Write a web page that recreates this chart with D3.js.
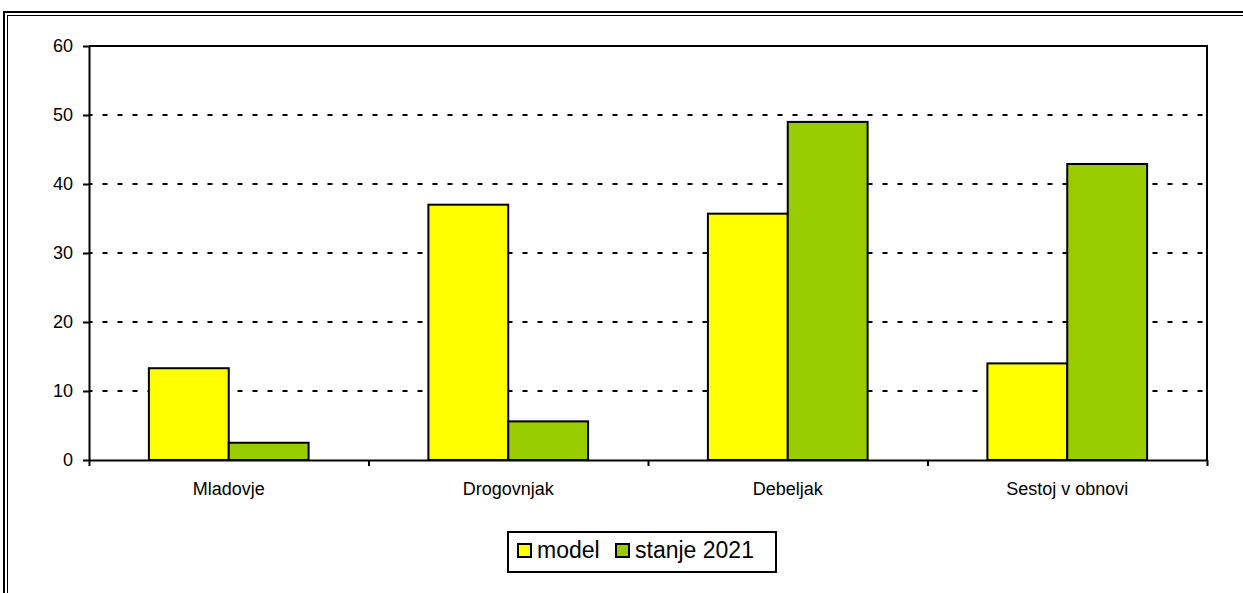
<!DOCTYPE html>
<html>
<head>
<meta charset="utf-8">
<script src="https://cdn.jsdelivr.net/npm/d3@7"></script>
<style>
  html, body { margin: 0; padding: 0; background: #fff; }
  svg { display: block; font-family: Arial, "Liberation Sans", sans-serif; }
</style>
</head>
<body>
<svg id="chart" width="1243" height="593"></svg>
<script>
// Razvojne faze: modelni delež in stanje 2021 (v %)
const categories = ["Mladovje", "Drogovnjak", "Debeljak", "Sestoj v obnovi"];
const seriesNames = ["model", "stanje 2021"];
const modelValues = [13.3, 37.0, 35.7, 14.0];
const stanjeValues = [2.5, 5.6, 49.0, 42.9];
const yTicks = [0, 10, 20, 30, 40, 50, 60];
const seriesColors = ["#FFFF00", "#99CC00"];

const svg = d3.select("#chart");
const W = 1243, H = 593;
const plot = { left: 89, right: 1207, top: 46, bottom: 460 };

// Chart frame: double border (thick outer, thin inner)
svg.append("rect")
  .attr("x", 4).attr("y", 12)
  .attr("width", W + 20).attr("height", H + 20)
  .attr("fill", "none").attr("stroke", "#000").attr("stroke-width", 2);
svg.append("rect")
  .attr("x", 7.5).attr("y", 15.5)
  .attr("width", W + 20).attr("height", H + 20)
  .attr("fill", "none").attr("stroke", "#000").attr("stroke-width", 1);

const y = d3.scaleLinear().domain([0, 60]).range([plot.bottom, plot.top]);
const x0 = d3.scaleBand().domain(categories).range([plot.left, plot.right]).padding(0);
const x1 = d3.scaleBand().domain(seriesNames).range([0, x0.bandwidth()])
  .paddingInner(0).paddingOuter(0.75);
const xEdge = d3.scaleLinear().domain([0, categories.length]).range([plot.left, plot.right]);

// Dashed horizontal gridlines
svg.append("g")
  .selectAll("line")
  .data(yTicks.filter(v => v > 0 && v < 60))
  .join("line")
  .attr("x1", plot.left).attr("x2", plot.right)
  .attr("y1", d => y(d)).attr("y2", d => y(d))
  .attr("stroke", "#000").attr("stroke-width", 2)
  .attr("stroke-dasharray", "5 10").attr("stroke-dashoffset", 1.5);

// Bars
const rows = categories.map((c, i) => ({ cat: c, vals: [modelValues[i], stanjeValues[i]] }));
svg.append("g")
  .selectAll("g")
  .data(rows)
  .join("g")
  .attr("transform", d => `translate(${x0(d.cat)},0)`)
  .selectAll("rect")
  .data(d => d.vals.map((v, j) => ({ s: seriesNames[j], v, j })))
  .join("rect")
  .attr("x", d => x1(d.s))
  .attr("y", d => y(d.v))
  .attr("width", x1.bandwidth())
  .attr("height", d => y(0) - y(d.v))
  .attr("fill", d => seriesColors[d.j])
  .attr("stroke", "#000").attr("stroke-width", 2);

// Plot area border (top / right)
svg.append("path")
  .attr("d", `M${plot.left},${plot.top}H${plot.right}V${plot.bottom}`)
  .attr("fill", "none").attr("stroke", "#000").attr("stroke-width", 2);

// Y axis
const yAxis = svg.append("g")
  .attr("transform", `translate(${plot.left},0)`)
  .call(d3.axisLeft(y).tickValues(yTicks).tickSize(6).tickPadding(10).tickSizeOuter(0));
yAxis.selectAll("text").attr("font-size", 18).attr("fill", "#000")
  .attr("font-family", "Arial, 'Liberation Sans', sans-serif");

// X axis: category labels
const xAxis = svg.append("g")
  .attr("transform", `translate(0,${plot.bottom})`)
  .call(d3.axisBottom(x0).tickSize(0).tickPadding(22));
xAxis.select(".domain").remove();
xAxis.selectAll("text").attr("font-size", 18).attr("fill", "#000")
  .attr("font-family", "Arial, 'Liberation Sans', sans-serif");

// X axis: line and boundary ticks
svg.append("g")
  .attr("transform", `translate(0,${plot.bottom})`)
  .call(d3.axisBottom(xEdge).tickValues(d3.range(categories.length + 1)).tickFormat("").tickSize(6).tickSizeOuter(0));

svg.selectAll(".domain, .tick line").attr("stroke", "#000").attr("stroke-width", 2);

// Legend
const legend = svg.append("g").attr("transform", "translate(508,532)");
legend.append("rect")
  .attr("x", 0).attr("y", 0).attr("width", 268).attr("height", 40)
  .attr("fill", "#fff").attr("stroke", "#000").attr("stroke-width", 2);
const legendX = [9, 107];
const items = legend.selectAll("g.item")
  .data(seriesNames)
  .join("g").attr("class", "item")
  .attr("transform", (d, i) => `translate(${legendX[i]},0)`);
items.append("rect")
  .attr("x", 1).attr("y", 12).attr("width", 13).attr("height", 13)
  .attr("fill", (d, i) => seriesColors[i]).attr("stroke", "#000").attr("stroke-width", 2);
items.append("text")
  .attr("x", 20).attr("y", 26)
  .attr("font-size", 23).attr("fill", "#000")
  .text(d => d);
</script>
</body>
</html>
